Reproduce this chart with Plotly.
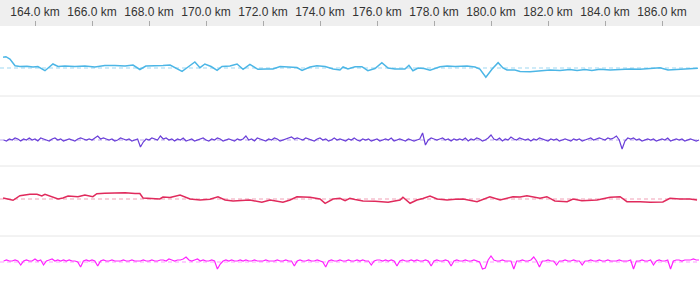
import plotly.graph_objects as go

# ---- data -------------------------------------------------------------
tick_km = [164, 166, 168, 170, 172, 174, 176, 178, 180, 182, 184, 186]
tick_labels = [f"{v:.1f} km" for v in tick_km]

cyan_km = [162.88, 162.98, 163.12, 163.30, 163.47, 163.72, 163.93, 164.10, 164.35, 164.63,
           164.81, 165.05, 165.40, 165.75, 166.10, 166.45, 166.80, 167.16, 167.44, 167.68,
           167.89, 168.21, 168.49, 168.74, 168.95, 169.16, 169.37, 169.61, 169.79, 169.96,
           170.18, 170.39, 170.56, 170.84, 171.09, 171.30, 171.54, 171.82, 172.11, 172.35,
           172.60, 172.95, 173.19, 173.37, 173.65, 173.89, 174.18, 174.46, 174.70, 174.81,
           174.98, 175.23, 175.47, 175.68, 175.93, 176.17, 176.39, 176.63, 176.81, 176.98,
           177.12, 177.26, 177.44, 177.65, 177.86, 178.21, 178.46, 178.74, 179.16, 179.44,
           179.61, 179.82, 180.04, 180.25, 180.42, 180.56, 180.84, 181.02, 181.37, 181.72,
           182.07, 182.42, 182.77, 183.02, 183.30, 183.54, 183.82, 184.18, 184.53, 184.88,
           185.23, 185.65, 185.93, 186.21, 186.46, 186.81, 187.05, 187.26]
cyan_val = [10.7, 11.3, 9.0, 2.3, 1.5, 1.8, 1.0, 1.5, -2.7, 4.0,
            1.5, 2.0, 1.5, 2.0, 1.0, 2.5, 2.5, 2.0, 3.0, -1.5,
            2.0, 2.0, 2.5, 3.0, 0.0, -3.3, 1.0, 6.0, 0.3, 4.0,
            1.5, -2.3, 1.5, 2.0, 4.0, -1.3, 3.7, -1.3, -1.0, -1.0,
            1.5, 1.0, 0.5, -2.5, 1.0, 2.3, 1.5, -1.0, -2.0, 1.0,
            -1.0, 1.3, 1.3, -2.7, -0.5, 5.3, 0.0, -1.0, -1.3, -1.0,
            2.7, -2.7, 0.0, -0.5, -2.3, 1.3, 2.0, 1.5, 2.0, 1.0,
            -1.0, -9.3, -1.0, 5.3, 0.0, -2.0, -2.0, -3.5, -3.7, -3.0,
            -2.0, -2.5, -1.5, -2.5, -1.5, -2.5, -1.3, -2.0, -1.5, -1.0,
            -1.3, -0.5, 0.3, -2.0, -1.5, -0.8, -0.5, -0.3]

red_km = [162.88, 163.23, 163.47, 163.82, 164.07, 164.24, 164.35, 164.63, 164.81, 164.98,
          165.16, 165.51, 165.75, 166.03, 166.17, 166.45, 166.81, 167.16, 167.51, 167.68,
          167.79, 168.03, 168.38, 168.49, 168.74, 169.09, 169.26, 169.44, 169.79, 170.14,
          170.42, 170.67, 170.95, 171.26, 171.54, 171.96, 172.25, 172.70, 172.95, 173.19,
          173.65, 174.00, 174.18, 174.46, 174.70, 174.88, 175.05, 175.23, 175.51, 175.93,
          176.39, 176.81, 176.91, 177.16, 177.40, 177.61, 177.86, 178.11, 178.46, 178.74,
          179.02, 179.51, 179.96, 180.32, 180.77, 181.02, 181.26, 181.72, 181.96, 182.24,
          182.67, 182.88, 183.19, 183.72, 184.18, 184.53, 184.77, 185.23, 185.58, 186.03,
          186.28, 186.63, 186.98, 187.23]
red_val = [1.0, -1.3, 3.3, 4.7, 4.7, 3.0, 4.7, 1.7, 0.0, 1.0,
           3.0, 2.3, 4.0, 2.3, 5.3, 5.7, 6.0, 6.3, 5.5, 5.5,
           1.0, 0.5, 0.0, 2.0, 1.5, 4.0, 2.0, 0.0, -1.0, -0.3,
           2.3, -1.0, -2.0, -1.5, -1.0, -3.3, -1.0, -3.3, -1.0, 2.3,
           1.7, 0.0, -4.3, 0.0, 0.7, -1.7, 0.7, -0.5, -2.0, -2.3,
           -3.3, -1.0, 1.7, -4.3, -1.0, 0.5, 3.0, 0.0, -1.0, -0.3,
           0.0, -2.7, 2.3, -1.0, 2.3, 2.0, 3.3, 0.7, 2.3, -2.0,
           -2.7, 0.0, -1.7, -1.0, 1.7, 2.3, -2.7, -2.7, -3.3, -3.0,
           0.7, 0.0, 0.0, -1.0]

grid_start_km = 162.9
grid_step_km = 0.1

purple_val = [0, -1, 1, 0, 2, 1, -1, 1, 0, 2, 0, 1, -1, 2, 1, 0, -1, 1, 2, 0,
              1, -1, 0, 1, 0, -1, 1, 2, 1, 0, 1, 0, 2, 4, 1, 2, 1, 0, 1, -1,
              0, 2, 1, 0, 1, -1, 0, 1, -7, -2, 1, 0, 2, 1, 0, 4, 1, 2, 0, 1,
              -1, 1, 0, 2, -1, 0, 1, -1, 0, 1, 2, 0, -1, 1, 0, 2, 1, -1, 0, 1,
              0, -1, 1, 0, 1, 4, 0, 1, -1, 2, 1, 0, -1, 1, 0, 2, 1, -1, 0, 1,
              2, 3, 1, 2, 1, 0, 2, 1, 0, -1, 1, 2, 0, 1, -1, 0, 2, 0, 1, 0,
              -1, 1, 0, 2, 0, -1, 1, 0, 1, -1, 0, 1, -1, 0, 1, 0, 2, -1, 0, 1,
              0, -1, 1, 0, -1, 0, 1, 7, -5, 0, 2, 1, 0, 1, 2, 0, 1, -1, 1, 0,
              1, 0, 2, -1, 1, 0, 2, 1, -1, 0, 2, 5, 1, 0, 2, -1, 1, 0, 3, 1,
              0, 2, 1, 0, 1, -1, 1, 0, 2, 1, 0, -1, 1, 0, 1, -1, 0, 1, 0, -1,
              1, 0, 1, -1, 0, 1, 2, 0, 1, 2, 1, 0, 2, 1, 2, 4, 0, -9, -1, 2,
              1, 2, 0, 1, -1, 0, 1, 0, 1, -1, 0, 1, 0, 2, -1, 0, 1, 0, 1, -1,
              0, 1, 0, -1, 0]

magenta_val = [1, 2, 1, 1, 2, 1, -3, 1, 2, 1, 1, 3, 1, 2, -3, 1, 2, 3, 1, 2,
               1, 2, 1, 2, 1, 1, 0, -5, 1, 2, 1, 2, 1, -4, 1, 2, 1, 1, 2, 1,
               1, 1, 2, 1, 1, 2, 1, 1, 1, 2, 1, 1, 2, 1, 1, 2, 2, 1, 3, 2,
               1, 2, 2, 3, 5, 2, 1, 2, 3, 1, 2, 1, 1, 2, 1, -7, -2, 1, 2, 1,
               2, 1, 1, 2, 1, 2, 1, 1, 2, 1, 1, 1, 2, 1, 1, 1, 2, 1, 1, 2,
               1, 1, -4, 1, 2, 1, 1, 2, 1, 1, 2, 1, 0, -5, 1, 2, 1, 1, 2, 1,
               1, 2, 1, 1, 2, 1, 2, 1, 1, -3, 1, 2, 2, 1, 2, 1, 2, 1, -4, 1,
               2, 1, 1, 2, 1, 2, 1, 1, 2, 1, -4, 1, 2, 1, 1, 2, 1, -4, 1, 2,
               1, 1, 2, 1, 1, 2, 1, 0, -7, -6, 2, 6, 2, 1, 1, 2, 1, 1, 1, -7,
               1, 1, 2, 1, 1, 2, 5, 1, -5, 1, 1, 2, 1, 1, -3, 1, 1, 2, 1, 1,
               2, 1, 1, -3, 1, 1, 2, 1, 1, 2, 1, 1, 2, 1, 1, 1, 2, 1, 1, 1,
               2, -7, 1, 1, 2, 1, 1, 2, -3, 1, 2, 1, 1, 2, -7, 1, 2, 2, 1, 2,
               2, 2, 3, 2, 2]

grid_km = [round(grid_start_km + grid_step_km * i, 2) for i in range(len(purple_val))]

# ---- layout geometry ---------------------------------------------------
W, H = 700, 299
band_px = 26
# panel (top_px, bottom_px, baseline_px)
panels = [(26, 96, 68), (96, 166, 140), (166, 236, 199), (236, 299, 262)]
colors = ["#4cb6e6", "#6a3fd8", "#e02a5c", "#ff22ff"]
ref_colors = ["rgba(76,182,230,0.55)", "rgba(106,63,216,0.45)",
              "rgba(224,42,92,0.45)", "rgba(255,34,255,0.45)"]
series_x = [cyan_km, grid_km, red_km, grid_km]
series_y = [cyan_val, purple_val, red_val, magenta_val]
widths = [1.5, 1.2, 1.5, 1.2]

x_range = [162.772, 162.772 + W / 28.5]

fig = go.Figure()
shapes = []
layout_axes = {}
for k, (top, bot, base) in enumerate(panels):
    yname = "y" if k == 0 else f"y{k+1}"
    axkey = "yaxis" if k == 0 else f"yaxis{k+1}"
    layout_axes[axkey] = dict(
        domain=[1 - bot / H, 1 - top / H],
        range=[-(bot - base), base - top],
        visible=False, fixedrange=True,
    )
    shapes.append(dict(type="line", xref="paper", yref=yname, x0=0, x1=1, y0=0, y1=0,
                       line=dict(color=ref_colors[k], width=1, dash="4px,3px"), layer="below"))
    fig.add_trace(go.Scatter(x=series_x[k], y=series_y[k], mode="lines", yaxis=yname,
                             line=dict(color=colors[k], width=widths[k]),
                             hoverinfo="skip", showlegend=False))

# top band and separators
shapes.insert(0, dict(type="rect", xref="paper", yref="paper", x0=0, x1=1,
                      y0=1 - band_px / H, y1=1, fillcolor="#efefef", line=dict(width=0),
                      layer="below"))
for sep in (96, 166, 236):
    shapes.append(dict(type="line", xref="paper", yref="paper", x0=0, x1=1,
                       y0=1 - sep / H, y1=1 - sep / H,
                       line=dict(color="#e6e6e6", width=1), layer="below"))

fig.update_layout(
    width=W, height=H,
    margin=dict(l=0, r=0, t=0, b=0),
    paper_bgcolor="white", plot_bgcolor="rgba(0,0,0,0)",
    showlegend=False,
    shapes=shapes,
    xaxis=dict(range=x_range, side="top", anchor="free", position=1 - band_px / H,
               tickvals=tick_km, ticktext=tick_labels, ticks="outside", ticklen=5,
               tickcolor="#aaaaaa", tickwidth=1, showgrid=False, zeroline=False,
               showline=False, fixedrange=True,
               tickfont=dict(family="Liberation Sans, Arial, sans-serif", size=12,
                             color="#333333")),
    **layout_axes,
)

fig.write_html("out.html")
